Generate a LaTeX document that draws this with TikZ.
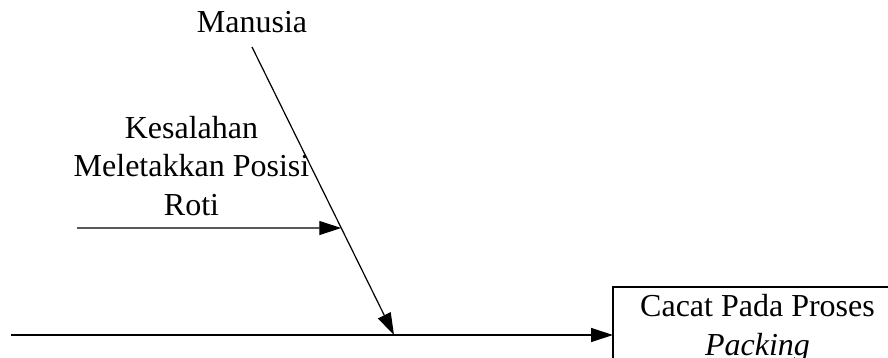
\documentclass[tikz,border=0pt]{standalone}
\usepackage{fontspec}
\setmainfont{Liberation Serif}
\usetikzlibrary{arrows.meta,positioning,calc}

\begin{document}
\begin{tikzpicture}[x=0.5pt,y=-0.5pt,line width=0.6pt,
  lbl/.style={inner sep=0pt,font=\fontsize{16}{19.25}\selectfont,align=center},
  arr/.style={-{Triangle[length=11pt,width=7pt]}}]
\useasboundingbox (0,0) rectangle (888,358);
% --- category bone: Manusia ---
\node[lbl,anchor=base] (man) at (252,33) {Manusia};
\coordinate (boneTop) at (252,47);
\coordinate (head) at (394,335);
\draw[arr] (boneTop) -- (head);
% --- cause on the bone ---
\node[lbl] (cause) at (191.5,166) {Kesalahan\\Meletakkan Posisi\\Roti};
\coordinate (causeTail) at (77,228);
\coordinate (joint) at ($(boneTop)!0.6285!(head)$);
\draw[arr] (causeTail) -- (joint);
% --- effect box (runs past the page edge) ---
\coordinate (boxNW) at (613,287);
\node[lbl,anchor=north] (fx) at (757.5,294) {Cacat Pada Proses\\\textit{Packing}};
\draw (boxNW |- 0,362) -- (boxNW) -- (boxNW -| 888,0);
% --- spine ---
\coordinate (tail) at (11,335);
\draw[arr] (tail) -- (tail -| boxNW);
\end{tikzpicture}
\end{document}
